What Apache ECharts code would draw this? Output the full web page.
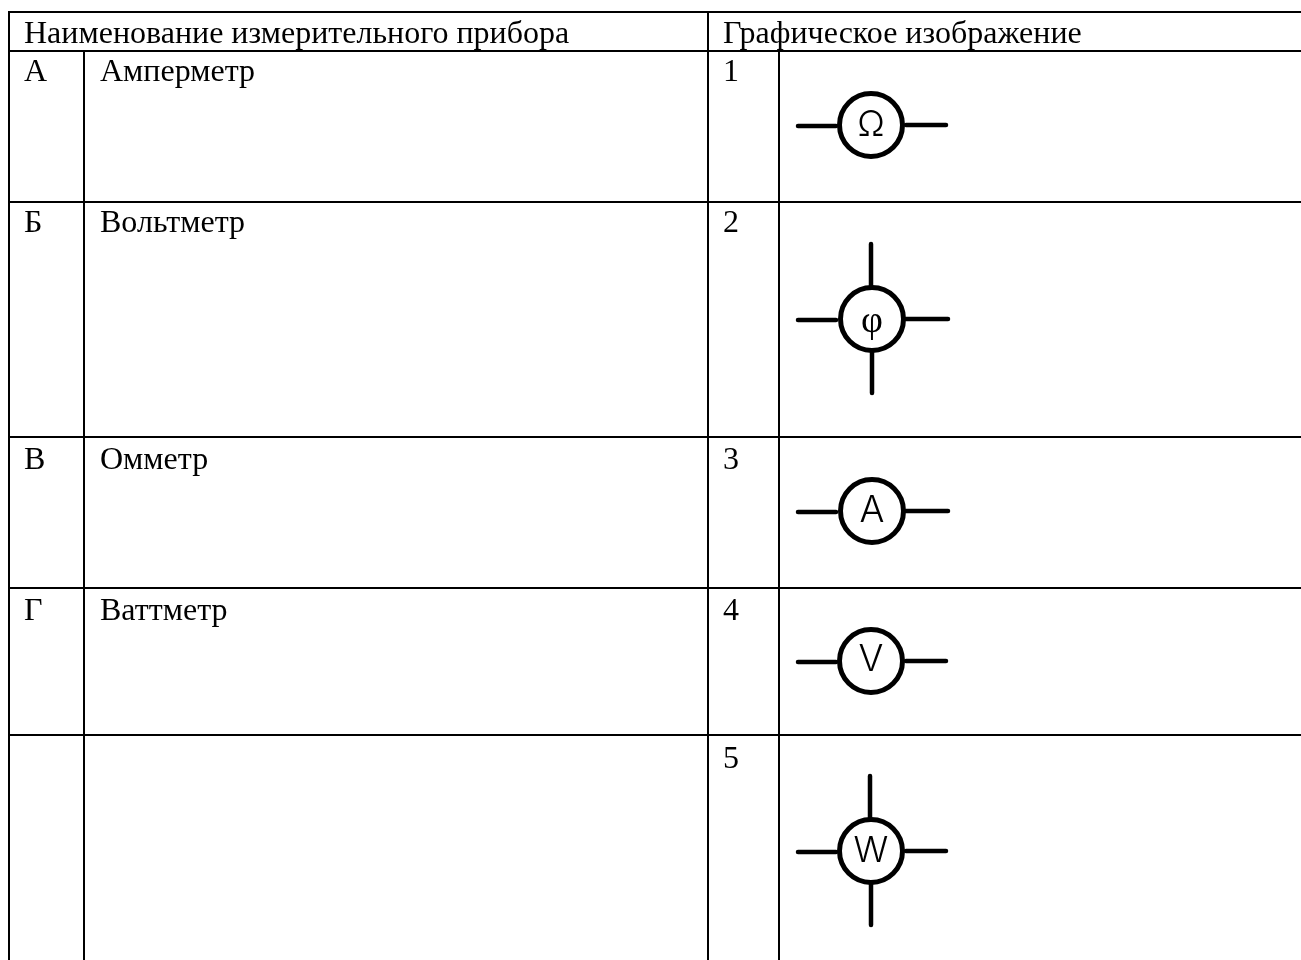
<!DOCTYPE html>
<html><head><meta charset="utf-8">
<style>html,body{margin:0;padding:0;background:#fff}#c{width:1301px;height:960px}</style>
<script src="https://cdn.jsdelivr.net/npm/echarts@6/dist/echarts.min.js"></script>
</head><body><div id="c"></div>
<script>
const headers = ["Наименование измерительного прибора", "Графическое изображение"];
const letters = ["А", "Б", "В", "Г", ""];
const names = ["Амперметр", "Вольтметр", "Омметр", "Ваттметр", ""];
const numbers = ["1", "2", "3", "4", "5"];
const glyphs = ["Ω", "φ", "A", "V", "W"];
const hasVerticalLeads = [false, true, false, false, true];
const rowLines = [12, 51, 202, 437, 588, 735];
const textOffsets = [22, 22, 24, 24, 25];
const symbolCentres = [[871,125],[872,319],[872,511],[871,661],[871,851]];
const rightLeadEnds = [946,948,948,946,946];
const lightFont = 'Inter,"Liberation Sans",sans-serif';
const glyphFonts = ['300 36px '+lightFont,'38px "Liberation Serif",serif','300 37px '+lightFont,'300 37px '+lightFont,'300 36px '+lightFont];
const glyphDy = [0,3,0,-1,0];
const font = '32px "Liberation Serif","Times New Roman",serif';
const g = [];
const line = (x1,y1,x2,y2,w,cap)=>g.push({type:'line',silent:true,shape:{x1,y1,x2,y2},style:{stroke:'#000',lineWidth:w||2,lineCap:cap||'butt'}});
const text = (x,y,t,f,align)=>g.push({type:'text',silent:true,x,y,style:{text:t,font:f,fill:'#000',textAlign:align||'left',textVerticalAlign:'middle'}});
rowLines.forEach(y=>line(8,y,1301,y));
line(9,11,9,960);
line(708,11,708,960);
line(84,51,84,960);
line(779,51,779,960);
text(24,35,headers[0],font);
text(723,35,headers[1],font);
letters.forEach((t,i)=>{ if(t) text(24,rowLines[i+1]+textOffsets[i],t,font); });
names.forEach((t,i)=>{ if(t) text(100,rowLines[i+1]+textOffsets[i],t,font); });
numbers.forEach((t,i)=>text(723,rowLines[i+1]+textOffsets[i],t,font));
glyphs.forEach((t,i)=>{
  const [cx,cy]=symbolCentres[i];
  line(798,cy+1,836,cy+1,4.5,'round');
  line(906,cy,rightLeadEnds[i],cy,4.5,'round');
  if(hasVerticalLeads[i]){ line(cx-1,cy-75,cx-1,cy-32,4.5,'round'); line(cx,cy+32,cx,cy+74,4.5,'round'); }
  g.push({type:'circle',silent:true,shape:{cx,cy,r:31.5},style:{fill:'#fff',stroke:'#000',lineWidth:5}});
  text(cx,cy+glyphDy[i],t,glyphFonts[i],'center');
});
const chart = echarts.init(document.getElementById('c'),null,{renderer:'canvas'});
chart.setOption({animation:false,backgroundColor:'#fff',graphic:{elements:g}});
</script></body></html>
